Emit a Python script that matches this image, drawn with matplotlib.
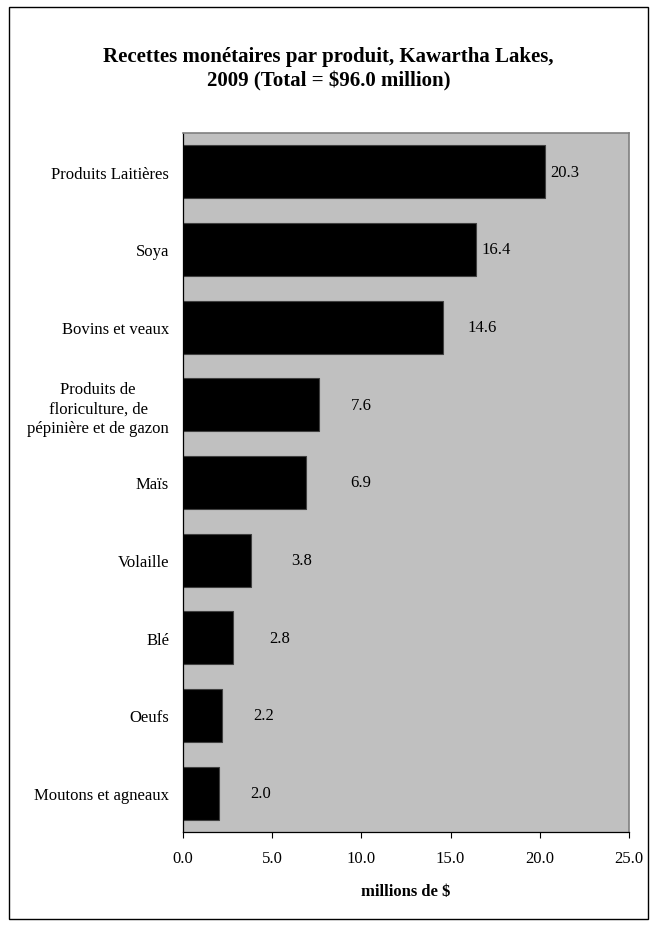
import matplotlib
matplotlib.use('Agg')
import matplotlib.pyplot as plt
from matplotlib.patches import Rectangle

plt.rcParams['font.family'] = ['Liberation Serif', 'DejaVu Serif']

categories = ['Produits Laitières', 'Soya', 'Bovins et veaux',
              'Produits de\nfloriculture, de\npépinière et de gazon',
              'Maïs', 'Volaille', 'Blé', 'Oeufs', 'Moutons et agneaux']
values = [20.3, 16.4, 14.6, 7.6, 6.9, 3.8, 2.8, 2.2, 2.0]
xticks = [0, 5, 10, 15, 20, 25]
title = 'Recettes monétaires par produit, Kawartha Lakes,\n2009 (Total = $96.0 million)'
xlabel = 'millions de $'

# label offsets (points) from bar end, mimicking the original placement
label_dx = [4, 4, 17, 23, 32, 29, 26, 22, 23]

fig = plt.figure(figsize=(6.57, 9.28), dpi=100)
ax = fig.add_axes([0.2785, 0.1024, 0.6789, 0.7532])
ax.set_facecolor('#C0C0C0')

ypos = list(range(len(values)))
ax.barh(ypos, values, height=0.68, color='black', edgecolor='#404040', lw=0.8)
ax.set_ylim(len(values) - 0.5, -0.5)
ax.set_xlim(0, 25)
ax.set_yticks(ypos)
ax.set_yticklabels(categories, fontsize=12, multialignment='center',
                   linespacing=1.3)
ax.tick_params(axis='y', length=0, pad=10)
ax.set_xticks(xticks)
ax.set_xticklabels([f'{t:.1f}' for t in xticks], fontsize=12)
ax.tick_params(axis='x', length=4, width=0.8, direction='out', pad=9)
ax.set_xlabel(xlabel, fontsize=12, fontweight='bold', labelpad=12)

for sp in ['top', 'right']:
    ax.spines[sp].set_color('#808080')
    ax.spines[sp].set_linewidth(1.2)
for sp in ['left', 'bottom']:
    ax.spines[sp].set_color('black')
    ax.spines[sp].set_linewidth(0.9)

for y, v, dx in zip(ypos, values, label_dx):
    ax.annotate(f'{v:.1f}', xy=(v, y), xytext=(dx, 0), textcoords='offset points',
                ha='left', va='center', fontsize=12)

fig.text(0.5, 0.9255, title, ha='center', va='center', fontsize=15,
         fontweight='bold', linespacing=1.3)

fig.patches.append(Rectangle((9 / 657, 1 - 920 / 928), 639 / 657, 912 / 928,
                             transform=fig.transFigure, fill=False,
                             edgecolor='black', lw=1.0))

fig.savefig('out.png', dpi=100)
